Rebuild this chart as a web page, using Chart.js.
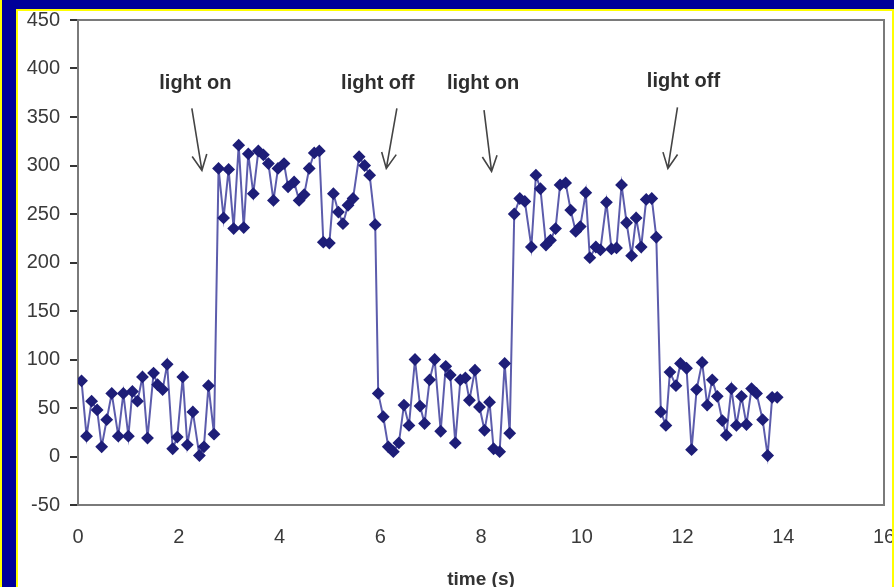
<!DOCTYPE html>
<html>
<head>
<meta charset="utf-8">
<script src="https://cdn.jsdelivr.net/npm/chart.js@4"></script>
<style>
  body { margin: 0; background: #fff; }
  #page { position: relative; width: 894px; height: 587px; overflow: hidden; background: #fff; }
  .bar { position: absolute; }
  #wrap { position: absolute; left: 18px; top: 11px; width: 874px; height: 580px; }
</style>
</head>
<body>
<div id="page">
  <div id="wrap"><canvas id="Graph" width="874" height="580"></canvas></div>
  <div class="bar" style="left:0;top:0;width:894px;height:9px;background:#000099"></div>
  <div class="bar" style="left:2px;top:0;width:14px;height:587px;background:#000099"></div>
  <div class="bar" style="left:0;top:0;width:2px;height:587px;background:#ffff00"></div>
  <div class="bar" style="left:16px;top:9px;width:2px;height:578px;background:#ffff00"></div>
  <div class="bar" style="left:16px;top:9px;width:878px;height:2px;background:#ffff00"></div>
  <div class="bar" style="left:892px;top:9px;width:2px;height:578px;background:#ffff00"></div>
</div>
<script>
// light sensor readings
var times = [
  0.07, 0.17, 0.27, 0.38, 0.47, 0.57, 0.67, 0.8, 0.9, 1.0, 1.08, 1.18, 1.28, 1.38, 1.5, 1.58, 1.68, 1.77, 1.88, 1.97, 2.08, 2.17, 2.28, 2.41, 2.5, 2.59, 2.7,
  2.79, 2.89, 2.99, 3.09, 3.19, 3.29, 3.38, 3.48, 3.58, 3.68, 3.78, 3.88, 3.97, 4.09, 4.17, 4.29, 4.39, 4.49, 4.59, 4.69, 4.79, 4.87, 4.99, 5.07, 5.17, 5.26, 5.36, 5.46, 5.58, 5.69, 5.79, 5.9,
  5.96, 6.06, 6.16, 6.26, 6.37, 6.47, 6.57, 6.69, 6.79, 6.88, 6.98, 7.08, 7.2, 7.3, 7.39, 7.49, 7.59, 7.69, 7.77, 7.88, 7.97, 8.07, 8.17, 8.25, 8.37, 8.47, 8.57,
  8.66, 8.77, 8.87, 9.0, 9.09, 9.18, 9.29, 9.38, 9.48, 9.57, 9.68, 9.78, 9.88, 9.97, 10.08, 10.16, 10.28, 10.37, 10.49, 10.59, 10.69, 10.79, 10.89, 10.99, 11.08, 11.18, 11.28, 11.39, 11.48,
  11.57, 11.67, 11.75, 11.87, 11.96, 12.08, 12.18, 12.28, 12.39, 12.49, 12.59, 12.69, 12.79, 12.87, 12.97, 13.07, 13.17, 13.27, 13.37, 13.47, 13.59, 13.69, 13.78, 13.88
];
var readings = [
  78, 21, 57, 48, 10, 38, 65, 21, 65, 21, 67, 57, 82, 19, 86, 74, 69, 95, 8, 20, 82, 12, 46, 1, 10, 73, 23,
  297, 246, 296, 235, 321, 236, 312, 271, 315, 311, 302, 264, 297, 302, 278, 283, 264, 270, 297, 313, 315, 221, 220, 271, 252, 240, 259, 266, 309, 300, 290, 239,
  65, 41, 10, 5, 14, 53, 32, 100, 52, 34, 79, 100, 26, 93, 84, 14, 79, 81, 58, 89, 51, 27, 56, 8, 5, 96, 24,
  250, 266, 263, 216, 290, 276, 218, 223, 235, 280, 282, 254, 232, 237, 272, 205, 216, 213, 262, 214, 215, 280, 241, 207, 246, 216, 265, 266, 226,
  46, 32, 87, 73, 96, 91, 7, 69, 97, 53, 79, 62, 37, 22, 70, 32, 62, 33, 70, 65, 38, 1, 61, 61
];

// annotation labels and arrows (data units)
var noteText = ['light on', 'light off', 'light on', 'light off'];
var noteX = [2.33, 5.95, 8.04, 12.02];
var noteY = [385, 385, 385, 387];
var arrowFrom = [[2.26, 359], [6.33, 359], [8.06, 357], [11.9, 360]];
var arrowTo = [[2.46, 295], [6.12, 297], [8.21, 294], [11.71, 297]];

var points = times.map(function (t, i) { return { x: t, y: readings[i] }; });

var tickFont = { family: 'Liberation Sans, Arial, sans-serif', size: 20 };

var frameAndNotes = {
  id: 'frameAndNotes',
  beforeDatasetsDraw: function (chart) {
    var a = chart.chartArea, ctx = chart.ctx;
    ctx.save();
    ctx.strokeStyle = '#7a7a7a';
    ctx.lineWidth = 2;
    ctx.strokeRect(a.left, a.top, a.right - a.left, a.bottom - a.top);
    ctx.restore();
  },
  afterDatasetsDraw: function (chart) {
    var xs = chart.scales.x, ys = chart.scales.y, ctx = chart.ctx;
    ctx.save();
    ctx.fillStyle = '#2e2e2e';
    ctx.font = 'bold 20px "Liberation Sans", Arial, sans-serif';
    ctx.textAlign = 'center';
    ctx.textBaseline = 'middle';
    for (var i = 0; i < noteText.length; i++) {
      ctx.fillText(noteText[i], xs.getPixelForValue(noteX[i]), ys.getPixelForValue(noteY[i]));
    }
    ctx.strokeStyle = '#444';
    ctx.lineWidth = 1.6;
    for (var j = 0; j < arrowFrom.length; j++) {
      var x1 = xs.getPixelForValue(arrowFrom[j][0]), y1 = ys.getPixelForValue(arrowFrom[j][1]);
      var x2 = xs.getPixelForValue(arrowTo[j][0]), y2 = ys.getPixelForValue(arrowTo[j][1]);
      var ang = Math.atan2(y2 - y1, x2 - x1);
      ctx.beginPath();
      ctx.moveTo(x1, y1);
      ctx.lineTo(x2, y2);
      ctx.moveTo(x2 - 17 * Math.cos(ang - 0.45), y2 - 17 * Math.sin(ang - 0.45));
      ctx.lineTo(x2, y2);
      ctx.lineTo(x2 - 17 * Math.cos(ang + 0.45), y2 - 17 * Math.sin(ang + 0.45));
      ctx.stroke();
    }
    ctx.restore();
  }
};

var chart = new Chart(document.getElementById('Graph').getContext('2d'), {
  type: 'line',
  data: {
    datasets: [{
      data: points,
      borderColor: '#5c5cac',
      borderWidth: 2,
      backgroundColor: '#1e1e78',
      pointBackgroundColor: '#1e1e78',
      pointBorderColor: '#1e1e78',
      pointStyle: 'rectRot',
      pointRadius: 5,
      tension: 0
    }]
  },
  options: {
    responsive: false,
    animation: false,
    layout: { padding: { top: 9, right: 8, left: 0, bottom: 0 } },
    plugins: { legend: { display: false }, tooltip: { enabled: false } },
    scales: {
      x: {
        type: 'linear',
        min: 0, max: 16,
        grid: { display: false, drawTicks: false },
        border: { display: true, color: '#333', width: 2 },
        ticks: { stepSize: 2, color: '#3a3a3a', font: tickFont, padding: 20, maxRotation: 0 },
        title: { display: true, text: 'time (s)', color: '#333', font: { family: 'Liberation Sans, Arial, sans-serif', size: 19, weight: 'bold' }, padding: { top: 0, bottom: 0 } },
        afterFit: function (s) { s.height = 86; s.paddingLeft = 0; s.paddingRight = 0; }
      },
      y: {
        min: -50, max: 450,
        grid: { drawOnChartArea: false, drawTicks: true, tickLength: 8, color: '#333', lineWidth: 2 },
        border: { display: true, color: '#333', width: 2 },
        ticks: { stepSize: 50, color: '#3a3a3a', font: tickFont, padding: 10 },
        afterFit: function (s) { s.width = 60; s.paddingTop = 0; s.paddingBottom = 0; }
      }
    }
  },
  plugins: [frameAndNotes]
});
</script>
</body>
</html>
